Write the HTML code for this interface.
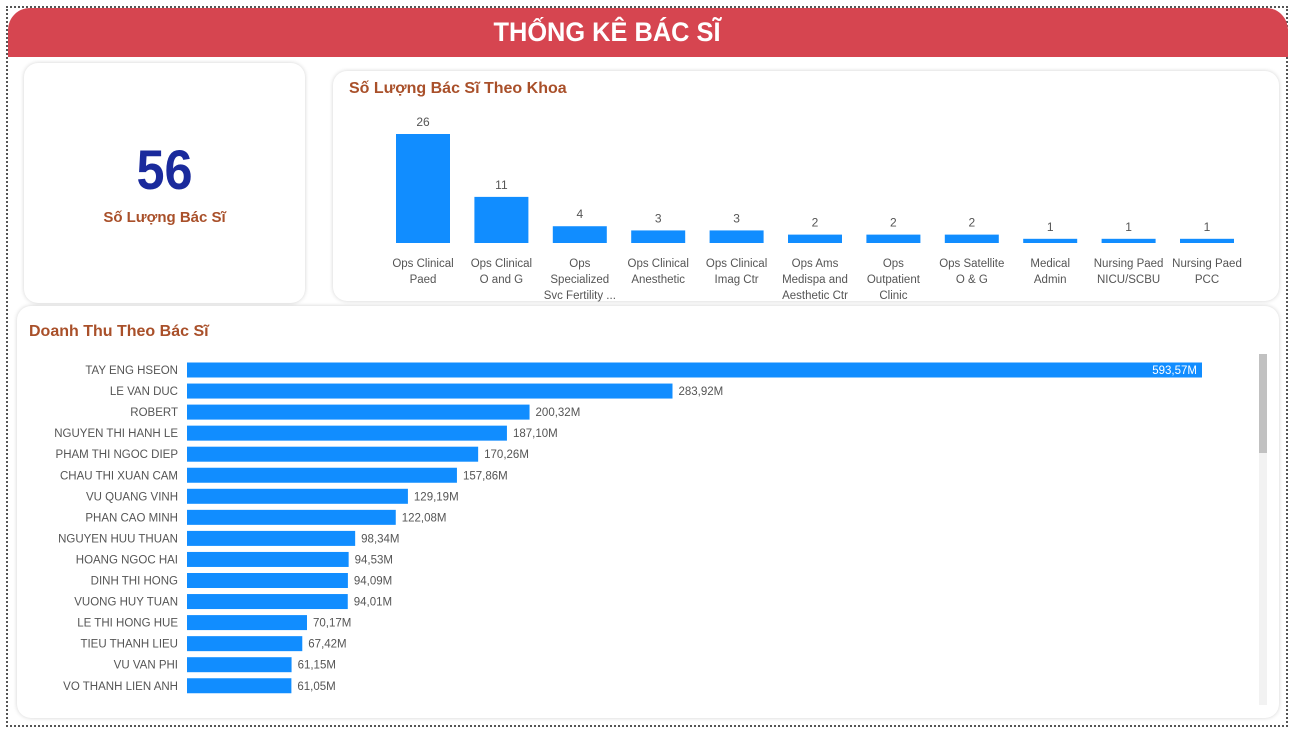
<!DOCTYPE html>
<html><head><meta charset="utf-8">
<style>
body{margin:0;width:1301px;height:733px;background:#fff;font-family:"Liberation Sans",sans-serif;overflow:hidden;position:relative}
.abs{position:absolute}
.card{position:absolute;background:#fff;border-radius:14px;box-shadow:0 0 4px rgba(0,0,0,0.18)}
#svg{z-index:5}
</style></head>
<body>
<div class="abs" style="left:6px;top:6px;width:1282px;height:721px;border:2px dotted #555;box-sizing:border-box"></div>
<div class="abs" style="left:8px;top:8px;width:1280px;height:49px;background:#d64550;border-radius:22px 22px 0 0;color:#fff;font-weight:bold;font-size:27px;line-height:49px">
<span style="position:absolute;left:599px;top:0;transform:translateX(-50%) scaleX(0.94);white-space:nowrap">THỐNG KÊ BÁC SĨ</span></div>

<div class="card" style="left:24px;top:63px;width:281px;height:240px">
<div class="abs" style="left:0;width:281px;top:74px;text-align:center;font-size:56px;font-weight:bold;color:#1a2a9c;transform:scaleX(0.9)">56</div>
<div class="abs" style="left:0;width:281px;top:146px;text-align:center;font-size:15px;font-weight:bold;color:#a9502a">Số Lượng Bác Sĩ</div>
</div>

<div class="card" style="left:333px;top:71px;width:946px;height:230px">
<div class="abs" style="left:16px;top:9px;font-size:16px;font-weight:bold;color:#a9502a">Số Lượng Bác Sĩ Theo Khoa</div>
</div>

<div class="card" style="left:17px;top:306px;width:1262px;height:412px">
<div class="abs" style="left:12px;top:17px;font-size:16px;font-weight:bold;color:#a9502a">Doanh Thu Theo Bác Sĩ</div>
<div class="abs" style="left:1242px;top:48px;width:8px;height:351px;background:#f2f2f2"></div>
<div class="abs" style="left:1242px;top:48px;width:8px;height:99px;background:#c1c1c1"></div>
</div>
<svg class="abs" style="left:0;top:0" width="1301" height="733" id="svg"></svg>

<script>
const deptCategories=[["Ops Clinical","Paed"],["Ops Clinical","O and G"],["Ops","Specialized","Svc Fertility ..."],["Ops Clinical","Anesthetic"],["Ops Clinical","Imag Ctr"],["Ops Ams","Medispa and","Aesthetic Ctr"],["Ops","Outpatient","Clinic"],["Ops Satellite","O & G"],["Medical","Admin"],["Nursing Paed","NICU/SCBU"],["Nursing Paed","PCC"]];
const deptCounts=[26,11,4,3,3,2,2,2,1,1,1];
const doctorNames=["TAY ENG HSEON","LE VAN DUC","ROBERT","NGUYEN THI HANH LE","PHAM THI NGOC DIEP","CHAU THI XUAN CAM","VU QUANG VINH","PHAN CAO MINH","NGUYEN HUU THUAN","HOANG NGOC HAI","DINH THI HONG","VUONG HUY TUAN","LE THI HONG HUE","TIEU THANH LIEU","VU VAN PHI","VO THANH LIEN ANH"];
const doctorRevenue=[593.57,283.92,200.32,187.10,170.26,157.86,129.19,122.08,98.34,94.53,94.09,94.01,70.17,67.42,61.15,61.05];

const svg=document.getElementById('svg');
const NS='http://www.w3.org/2000/svg';
function mk(tag,attrs,txt){const e=document.createElementNS(NS,tag);for(const k in attrs)e.setAttribute(k,attrs[k]);if(txt!==undefined)e.textContent=txt;svg.appendChild(e);return e;}
const fmt=v=>v.toFixed(2).replace('.',',')+'M';

const vBase=243, vMaxH=109, vMax=Math.max(...deptCounts);
const xBand=i=>423+i*78.4;
const yV=v=>vBase-v/vMax*vMaxH;
deptCounts.forEach((v,i)=>{
  const cx=xBand(i);
  const r=mk('rect',{x:cx-27,y:yV(v),width:54,height:vBase-yV(v),fill:'#118dff'});
  
  
  const t=mk('text',{x:cx,y:yV(v)-8,'text-anchor':'middle','font-size':12,fill:'#555'},String(v));
  
  
  deptCategories[i].forEach((ln,j)=>{
    const l=mk('text',{x:cx,y:267+j*16,'text-anchor':'middle','font-size':11.5,fill:'#555'},ln);
    
    
  });
});

const hX0=187, hMaxW=1015, hMax=Math.max(...doctorRevenue);
const xH=v=>hX0+v/hMax*hMaxW;
const yRow=i=>370+i*21.05;
doctorRevenue.forEach((v,i)=>{
  const cy=yRow(i);
  const r=mk('rect',{x:hX0,y:cy-7.5,width:xH(v)-hX0,height:15,fill:'#118dff'});
  
  
  const n=mk('text',{x:178,y:cy+4,'text-anchor':'end','font-size':11.5,fill:'#555'},doctorNames[i]);
  
  
  const inside=(xH(v)-hX0)>hMaxW*0.8;
  const t=mk('text',{x:inside?xH(v)-5:xH(v)+6,y:cy+4,'text-anchor':inside?'end':'start','font-size':11.5,fill:inside?'#fff':'#555'},fmt(v));
  
  
});
</script>
</body></html>
